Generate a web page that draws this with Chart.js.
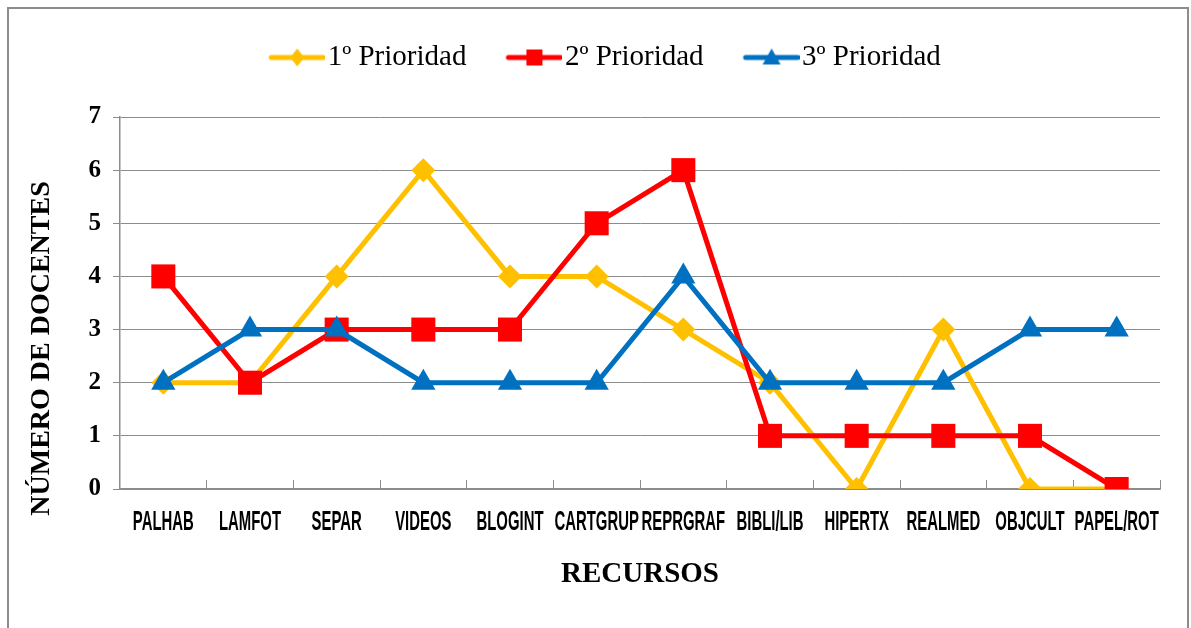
<!DOCTYPE html>
<html>
<head>
<meta charset="utf-8">
<script src="https://cdn.jsdelivr.net/npm/chart.js@4.4.1/dist/chart.umd.min.js"></script>
<style>
    body { margin: 0; background: #fff; }
</style>
</head>
<body>
<canvas id="myChart" width="1191" height="628"></canvas>
<script>
const recursos = ['PALHAB', 'LAMFOT', 'SEPAR', 'VIDEOS', 'BLOGINT', 'CARTGRUP', 'REPRGRAF', 'BIBLI/LIB', 'HIPERTX', 'REALMED', 'OBJCULT', 'PAPEL/ROT'];
const prioridad1 = [2, 2, 4, 6, 4, 4, 3, 2, 0, 3, 0, 0];
const prioridad2 = [4, 2, 3, 3, 3, 5, 6, 1, 1, 1, 1, 0];
const prioridad3 = [2, 3, 3, 2, 2, 2, 4, 2, 2, 2, 3, 3];
const yMin = 0, yMax = 7, yStep = 1;

const AMARILLO = '#FFC000';
const ROJO = '#FF0000';
const AZUL = '#0070C0';
const GRIS = '#8C8C8C';

// little line + marker picture for each legend entry
function legendIcon(color, shape) {
    const c = document.createElement('canvas');
    c.width = 68; c.height = 24;
    const g = c.getContext('2d');
    const cx = 40, cy = 12;
    g.strokeStyle = color;
    g.lineWidth = 5;
    g.lineCap = 'round';
    g.beginPath(); g.moveTo(14, cy); g.lineTo(66, cy); g.stroke();
    g.fillStyle = color;
    g.beginPath();
    if (shape === 'diamond') {
        g.moveTo(cx, cy - 9); g.lineTo(cx + 7, cy); g.lineTo(cx, cy + 9); g.lineTo(cx - 7, cy);
    } else if (shape === 'square') {
        g.rect(cx - 8, cy - 8, 16, 16);
    } else {
        g.moveTo(cx, cy - 9); g.lineTo(cx + 9, cy + 7); g.lineTo(cx - 9, cy + 7);
    }
    g.closePath();
    g.fill();
    return c;
}
const icons = [legendIcon(AMARILLO, 'diamond'), legendIcon(ROJO, 'square'), legendIcon(AZUL, 'triangle')];

// frame around the whole picture
const marco = {
    id: 'marco',
    beforeDraw(chart) {
        const ctx = chart.ctx;
        ctx.save();
        ctx.fillStyle = '#fff';
        ctx.fillRect(0, 0, chart.width, chart.height);
        ctx.strokeStyle = GRIS;
        ctx.lineWidth = 2;
        ctx.strokeRect(8, 8, 1180, 700);
        ctx.restore();
    }
};

// extra room under the legend, and centre it on the whole picture
const legendGap = {
    id: 'legendGap',
    beforeInit(chart) {
        const fit = chart.legend.fit;
        chart.legend.fit = function () {
            fit.call(this);
            this.height += 35;
        };
    },
    afterLayout(chart) {
        chart.legend.left += 25;
        chart.legend.right += 25;
    }
};

// narrow, tall category labels (the original uses a condensed font)
const etiquetasX = {
    id: 'etiquetasX',
    afterDraw(chart) {
        const scale = chart.scales.x;
        const ctx = chart.ctx;
        ctx.save();
        ctx.font = "bold 20px 'Liberation Sans', sans-serif";
        ctx.fillStyle = '#000';
        ctx.textAlign = 'center';
        ctx.textBaseline = 'middle';
        scale.ticks.forEach((t, i) => {
            ctx.save();
            ctx.translate(scale.getPixelForTick(i), scale.top + 34);
            ctx.scale(0.745, 1.35);
            ctx.fillText(scale.getLabelForValue(t.value), 0, 0);
            ctx.restore();
        });
        ctx.restore();
    }
};

const ctx = document.getElementById('myChart').getContext('2d');

new Chart(ctx, {
    type: 'line',
    data: {
        labels: recursos,
        datasets: [{
            label: '1º Prioridad',
            data: prioridad1,
            borderColor: AMARILLO,
            backgroundColor: AMARILLO,
            borderWidth: 5,
            pointStyle: 'rectRot',
            pointRadius: 12,
            pointBorderWidth: 0,
            tension: 0,
            order: 3
        }, {
            label: '2º Prioridad',
            data: prioridad2,
            borderColor: ROJO,
            backgroundColor: ROJO,
            borderWidth: 5,
            pointStyle: 'rect',
            pointRadius: 17,
            pointBorderWidth: 0,
            tension: 0,
            order: 2
        }, {
            label: '3º Prioridad',
            data: prioridad3,
            borderColor: AZUL,
            backgroundColor: AZUL,
            borderWidth: 5,
            pointStyle: 'triangle',
            pointRadius: 14,
            pointBorderWidth: 0,
            tension: 0,
            order: 1
        }]
    },
    options: {
        responsive: false,
        animation: false,
        layout: {
            padding: { top: 3, right: 31, bottom: 0, left: 0 }
        },
        plugins: {
            tooltip: { enabled: false },
            legend: {
                position: 'top',
                labels: {
                    color: '#000',
                    font: { family: "'Liberation Serif', serif", size: 29 },
                    usePointStyle: true,
                    pointStyleWidth: 44,
                    padding: 40,
                    generateLabels(chart) {
                        const items = Chart.defaults.plugins.legend.labels.generateLabels(chart);
                        items.sort((a, b) => a.datasetIndex - b.datasetIndex);
                        items.forEach((it) => { it.pointStyle = icons[it.datasetIndex]; });
                        return items;
                    }
                }
            }
        },
        scales: {
            x: {
                offset: true,
                afterFit(scale) { scale.height = 139; },
                grid: {
                    offset: true,
                    drawOnChartArea: false,
                    tickLength: -9,
                    color: GRIS,
                    lineWidth: 1
                },
                border: { color: GRIS, width: 1.5 },
                ticks: {
                    display: false,
                    autoSkip: false,
                    maxRotation: 0
                },
                title: {
                    display: true,
                    text: 'RECURSOS',
                    color: '#000',
                    font: { family: "'Liberation Serif', serif", size: 29, weight: 'bold' },
                    padding: { top: 0, bottom: 36 }
                }
            },
            y: {
                min: yMin,
                max: yMax,
                afterFit(scale) { scale.width = 120; },
                grid: {
                    color: GRIS,
                    lineWidth: 1,
                    tickLength: 7
                },
                border: { color: GRIS, width: 1.5 },
                ticks: {
                    stepSize: yStep,
                    padding: 12,
                    color: '#000',
                    font: { family: "'Liberation Serif', serif", size: 25, weight: 'bold' }
                },
                title: {
                    display: true,
                    text: 'NÚMERO DE DOCENTES' + ' '.repeat(13),
                    color: '#000',
                    font: { family: "'Liberation Serif', serif", size: 28, weight: 'bold' },
                    padding: { top: 25, bottom: 0 }
                }
            }
        }
    },
    plugins: [marco, legendGap, etiquetasX]
});
</script>
</body>
</html>
